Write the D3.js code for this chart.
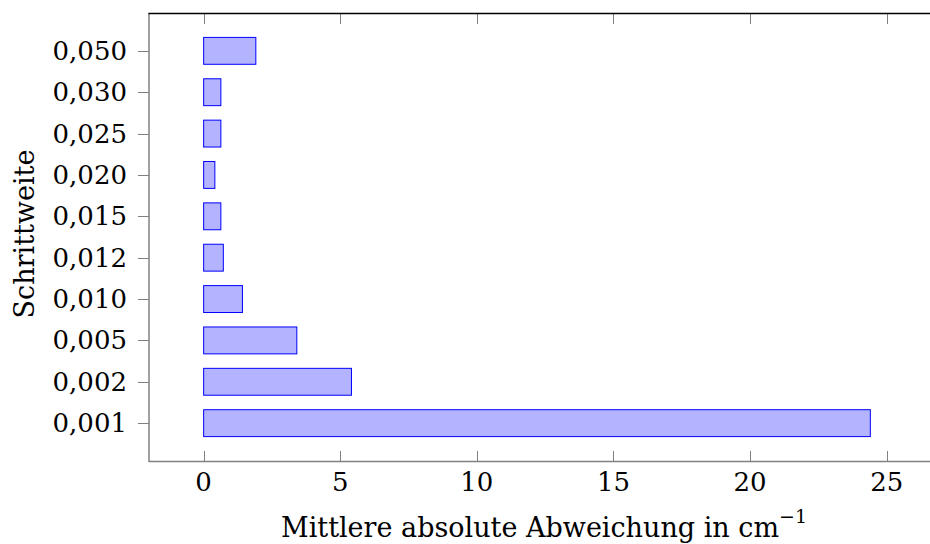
<!DOCTYPE html>
<html>
<head>
<meta charset="utf-8">
<script src="https://cdn.jsdelivr.net/npm/d3@7"></script>
<style>
  body { margin: 0; background: #fff; }
  text { font-family: "DejaVu Serif", "Liberation Serif", "Times New Roman", serif; fill: #000; }
</style>
</head>
<body>
<svg id="chart" width="930" height="544"></svg>
<script>
// step sizes (bottom to top) and mean absolute deviation in cm^-1
var steps = ["0,001", "0,002", "0,005", "0,010", "0,012", "0,015", "0,020", "0,025", "0,030", "0,050"];
var deviation = [24.4, 5.41, 3.41, 1.42, 0.72, 0.63, 0.41, 0.63, 0.63, 1.91];
var xTicks = [0, 5, 10, 15, 20, 25];

var LEFT = 149, TOP = 13, BOTTOM = 461, RIGHT_X = 940;

var svg = d3.select("#chart");

var x = d3.scaleLinear().domain([-2, 26.95]).range([LEFT, RIGHT_X]);
var y = d3.scaleBand().domain(steps).range([BOTTOM, TOP])
    .paddingInner(0.35).paddingOuter(0.59);

// bars
svg.append("g").selectAll("rect")
    .data(steps)
    .enter().append("rect")
    .attr("x", x(0))
    .attr("y", function(d) { return y(d); })
    .attr("width", function(d, i) { return x(deviation[i]) - x(0); })
    .attr("height", y.bandwidth())
    .attr("fill", "#b3b3ff")
    .attr("stroke", "#0000ff")
    .attr("stroke-width", 1);

// x ticks (inside, bottom and top)
var tickG = svg.append("g").attr("stroke", "#808080").attr("stroke-width", 1);
xTicks.forEach(function(t) {
    var px = Math.round(x(t)) + 0.5;
    tickG.append("line").attr("x1", px).attr("x2", px).attr("y1", BOTTOM).attr("y2", BOTTOM - 10);
    tickG.append("line").attr("x1", px).attr("x2", px).attr("y1", TOP).attr("y2", TOP + 11);
});
// y ticks (outside, left)
steps.forEach(function(s) {
    var py = Math.round(y(s) + y.bandwidth() / 2) + 0.5;
    tickG.append("line").attr("x1", LEFT - 11).attr("x2", LEFT).attr("y1", py).attr("y2", py);
});

// axis lines
svg.append("line").attr("x1", LEFT).attr("x2", 930).attr("y1", BOTTOM + 0.5).attr("y2", BOTTOM + 0.5)
    .attr("stroke", "#808080").attr("stroke-width", 1.5);
svg.append("line").attr("x1", LEFT).attr("x2", LEFT).attr("y1", TOP).attr("y2", BOTTOM + 1)
    .attr("stroke", "#808080").attr("stroke-width", 1.5);
svg.append("line").attr("x1", LEFT - 0.5).attr("x2", 930).attr("y1", TOP + 0.5).attr("y2", TOP + 0.5)
    .attr("stroke", "#000").attr("stroke-width", 1.5);

// x tick labels
svg.append("g").selectAll("text")
    .data(xTicks)
    .enter().append("text")
    .attr("x", function(d) { return x(d); })
    .attr("y", 491)
    .attr("text-anchor", "middle")
    .attr("font-size", 26)
    .text(function(d) { return d; });

// y tick labels
svg.append("g").selectAll("text")
    .data(steps)
    .enter().append("text")
    .attr("x", 127)
    .attr("y", function(d) { return y(d) + y.bandwidth() / 2 + 9; })
    .attr("text-anchor", "end")
    .attr("font-size", 26)
    .text(function(d) { return d; });

// axis titles
var xl = svg.append("text")
    .attr("x", 544)
    .attr("y", 537)
    .attr("text-anchor", "middle")
    .attr("font-size", 27);
xl.append("tspan").text("Mittlere absolute Abweichung in cm");
xl.append("tspan").attr("dy", -14).attr("font-size", 19).text("\u22121");

svg.append("text")
    .attr("transform", "translate(34,234) rotate(-90)")
    .attr("text-anchor", "middle")
    .attr("font-size", 27)
    .text("Schrittweite");
</script>
</body>
</html>
